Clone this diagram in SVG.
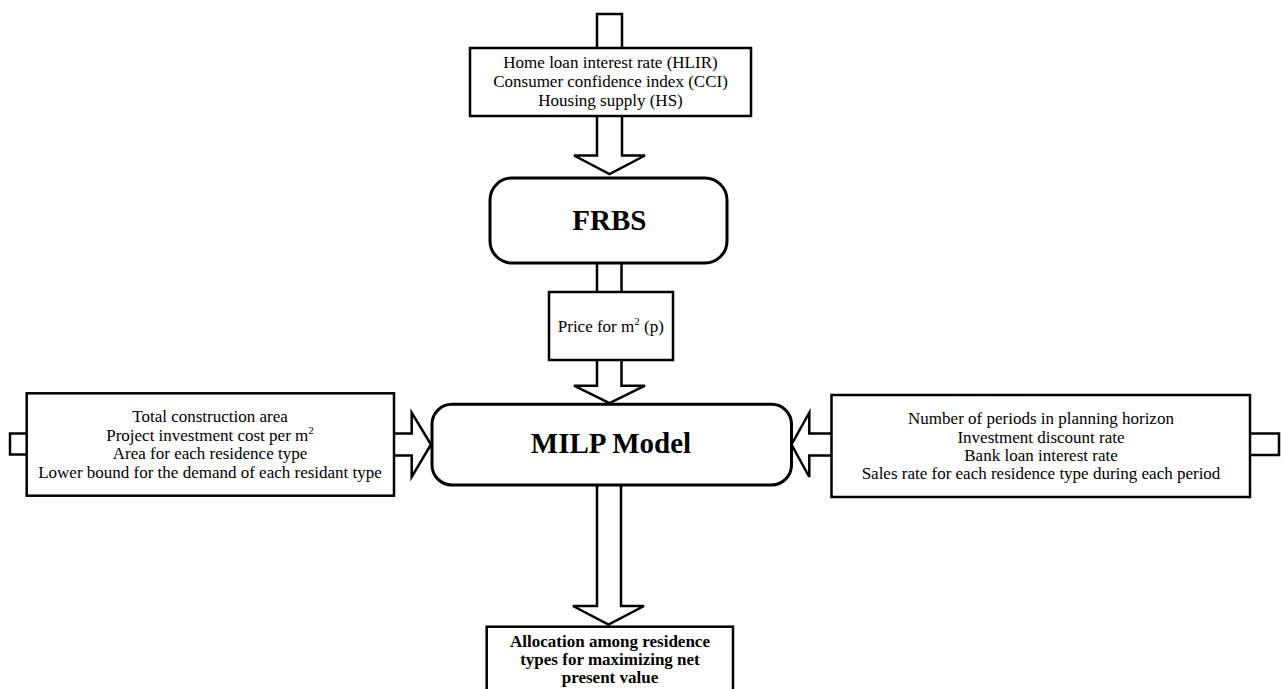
<svg xmlns="http://www.w3.org/2000/svg" width="1282" height="689" viewBox="0 0 1282 689">
<style>
.box{fill:#fff;stroke:#000;stroke-width:2.5}
.rbox{fill:#fff;stroke:#000;stroke-width:3}
.arr{fill:#fff;stroke:#000;stroke-width:2.5;stroke-linejoin:miter}
.t{font-family:"Liberation Serif","Times New Roman",serif;font-size:17px;fill:#000;text-anchor:middle}
.b{font-weight:bold}
.big{font-family:"Liberation Serif","Times New Roman",serif;font-size:29px;font-weight:bold;fill:#000;text-anchor:middle}
</style>
<rect width="1282" height="689" fill="#fff"/>
<g id="connectors">
<path class="arr" d="M597,48 V14 H622 V48"/>
<path class="arr" d="M597,116 V155.5 H574 L609.5,174 L645,155.5 H622 V116"/>
<path class="arr" d="M597,263 V292 M621.5,263 V292"/>
<path class="arr" d="M597,360 V385.7 H574 L609.5,403 L645,385.7 H621.5 V360"/>
<path class="arr" d="M597,485 V606 H573 L608.5,624.5 L644,606 H621 V485"/>
<path class="arr" d="M26.7,433.5 H10 V454.5 H26.7"/>
<path class="arr" d="M394,433.5 H411.7 V412.7 L431,444.5 L411.7,477 V455.5 H394"/>
<path class="arr" d="M831.5,433.5 H809.3 V412.7 L791.5,444.5 L809.3,477 V455.5 H831.5"/>
<path class="arr" d="M1250,433.5 H1279 V455 H1250"/>
</g>
<g id="inputs-top">
<rect class="box" x="470" y="48" width="281" height="68"/>
<text class="t" x="610.5" y="68">Home loan interest rate (HLIR)</text>
<text class="t" x="610.5" y="87">Consumer confidence index (CCI)</text>
<text class="t" x="610.5" y="106">Housing supply (HS)</text>
</g>
<g id="frbs">
<rect class="rbox" x="490" y="178" width="237" height="85" rx="22" ry="22"/>
<text class="big" x="609.3" y="229.5">FRBS</text>
</g>
<g id="price">
<rect class="box" x="549" y="292" width="124" height="68"/>
<text class="t" x="610.8" y="331.7">Price for m<tspan dy="-7" font-size="11">2</tspan><tspan dy="7"> (p)</tspan></text>
</g>
<g id="milp">
<rect class="rbox" x="432" y="404.3" width="359.5" height="80.7" rx="20" ry="20"/>
<text class="big" x="611" y="452.7">MILP Model</text>
</g>
<g id="inputs-left">
<rect class="box" x="26.7" y="393.3" width="367.3" height="102.4"/>
<text class="t" x="210" y="421.5">Total construction area</text>
<text class="t" x="210" y="440.5">Project investment cost per m<tspan dy="-7" font-size="11">2</tspan></text>
<text class="t" x="210" y="459.3">Area for each residence type</text>
<text class="t" x="210" y="477.7">Lower bound for the demand of each residant type</text>
</g>
<g id="inputs-right">
<rect class="box" x="831.5" y="395" width="418.5" height="102"/>
<text class="t" x="1041" y="424">Number of periods in planning horizon</text>
<text class="t" x="1041" y="442.5">Investment discount rate</text>
<text class="t" x="1041" y="460.8">Bank loan interest rate</text>
<text class="t" x="1041" y="479">Sales rate for each residence type during each period</text>
</g>
<g id="output">
<rect class="box" x="486.7" y="626.7" width="246.3" height="80"/>
<text class="t b" x="610" y="646.7">Allocation among residence</text>
<text class="t b" x="610" y="665">types for maximizing net</text>
<text class="t b" x="610" y="683.3">present value</text>
</g>
</svg>
